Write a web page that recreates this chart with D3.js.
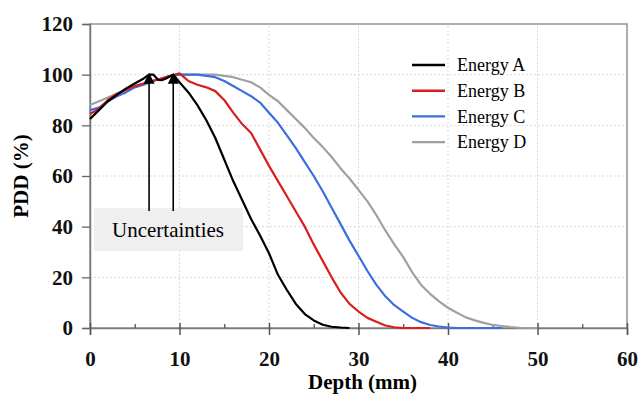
<!DOCTYPE html>
<html>
<head>
<meta charset="utf-8">
<script src="https://cdn.jsdelivr.net/npm/d3@7"></script>
<style>
body { margin: 0; background: #fff; }
svg text { font-family: "Liberation Serif", "DejaVu Serif", "Times New Roman", serif; }
</style>
</head>
<body>
<div id="viz"></div>
<script>
// PDD curves, [depth mm, pdd %]
var energyA = [[0,82.5],[1,86],[2,89.5],[3,92],[4,94.5],[5,96.5],[6,98.5],[6.6,100],[7.1,100],[7.6,98],[8,97.8],[8.5,98.5],[9,99.5],[9.3,100],
    [10,97],[11,93],[12,88],[13,82],[14,75],[15,66.5],[16,58],[17,50.5],[18,43],[19,36.5],[20,29.5],[21,21],[22,15],[23,9.5],[24,5.5],
    [25,3],[26,1.3],[27,0.5],[28,0.2],[29,0]];
var energyB = [[0,84.5],[1,86.5],[2,90],[3,92.5],[4,94],[5,95.5],[6,96.5],[7,97.5],[8,98.5],[9,99.5],[9.5,100],[10,100.5],[10.5,99],
    [11,97.5],[12,96],[13,95],[14,93.5],[15,90],[16,85],[17,80.5],[18,77],[19,70.5],[20,64],[21,58],[22,52],[23,46],[24,40],[25,33],
    [26,26.5],[27,20],[28,14],[29,9.5],[30,6.5],[31,4],[32,2.5],[33,1],[34,0.3],[35,0],[38,0]];
var energyC = [[0,86],[1,87],[2,89.5],[3,91.5],[4,93],[5,95],[6,96],[7,97.5],[8,98.5],[9,99.5],[10,100],[11,100],[12,100],[13,99.5],
    [14,99],[15,97.5],[16,95.5],[17,93.5],[18,91.5],[19,89],[20,85],[21,81],[22,76],[23,71],[24,65.5],[25,60],[26,54],[27,47.5],
    [28,41],[29,34.5],[30,28.5],[31,22.5],[32,17],[33,12.5],[34,9],[35,6.5],[36,4],[37,2.3],[38,1.2],[39,0.6],[40,0.2],[41,0],[46,0]];
var energyD = [[0,88],[1,89.5],[2,91],[3,92.5],[4,94],[5,95.5],[6,96.5],[7,97.5],[8,98.5],[9,99.5],[10,100],[11,100],[12,100],[13,100],
    [14,100],[15,99.5],[16,99],[17,98],[18,97],[19,95],[20,92],[21,89.5],[22,86],[23,82.5],[24,79],[25,75],[26,71.5],[27,67.5],
    [28,63],[29,59],[30,54.5],[31,50],[32,44.5],[33,38.5],[34,33],[35,28],[36,22],[37,17],[38,13.5],[39,10.5],[40,8],[41,6],
    [42,4.2],[43,3],[44,2],[45,1.2],[46,0.8],[47,0.4],[48,0.1],[50,0]];

var seriesNames = ["Energy A", "Energy B", "Energy C", "Energy D"];
var seriesData = [energyA, energyB, energyC, energyD];
var seriesColors = ["#000000", "#d81e1e", "#3b6ee0", "#a0a0a0"];

var xTicks = [0, 10, 20, 30, 40, 50, 60];
var xMinorTicks = [5, 15, 25, 35, 45, 55];
var yTicks = [0, 20, 40, 60, 80, 100, 120];

// arrow depths marking the peak uncertainty
var arrowDepths = [6.6, 9.3];

var canw = 638, canh = 396;

var svg = d3.select("#viz")
    .append("svg")
    .attr("width", canw)
    .attr("height", canh);

var x = d3.scaleLinear().domain([0, 60]).range([90, 627]);
var y = d3.scaleLinear().domain([0, 120]).range([328, 24]);

// grid
svg.append("g").selectAll("line")
    .data(xTicks.slice(1, -1))
    .enter().append("line")
    .attr("x1", function(d){ return x(d); })
    .attr("x2", function(d){ return x(d); })
    .attr("y1", y(0))
    .attr("y2", y(120))
    .style("stroke", "#d9d9d9")
    .style("stroke-dasharray", "2,2");
svg.append("g").selectAll("line")
    .data(yTicks.slice(1, -1))
    .enter().append("line")
    .attr("x1", x(0))
    .attr("x2", x(60))
    .attr("y1", function(d){ return y(d); })
    .attr("y2", function(d){ return y(d); })
    .style("stroke", "#d9d9d9")
    .style("stroke-dasharray", "2,2");

// frame
svg.append("rect")
    .attr("x", x(0))
    .attr("y", y(120))
    .attr("width", x(60) - x(0))
    .attr("height", y(0) - y(120))
    .style("fill", "none")
    .style("stroke", "#8c8c8c")
    .style("stroke-width", 1.4);

// y axis
var yAxis = svg.append("g")
    .attr("transform", "translate(" + x(0) + ",0)")
    .call(d3.axisLeft(y).tickValues(yTicks).tickSize(8).tickPadding(9));
yAxis.select(".domain").style("stroke", "#7a7a7a").style("stroke-width", 1.5);
yAxis.selectAll(".tick line").style("stroke", "#666").style("stroke-width", 1.3);
yAxis.selectAll("text")
    .attr("font-family", null)
    .style("font-size", "21px")
    .style("font-weight", "bold")
    .style("fill", "#111");

// x axis
var xAxis = svg.append("g")
    .attr("transform", "translate(0," + y(0) + ")")
    .call(d3.axisBottom(x).tickValues(xTicks).tickSize(7));
xAxis.select(".domain").style("stroke", "#7a7a7a").style("stroke-width", 1.5);
xAxis.selectAll(".tick line")
    .attr("y1", -5)
    .attr("y2", 7)
    .style("stroke", "#555")
    .style("stroke-width", 1.5);
xAxis.selectAll("text")
    .attr("y", 23)
    .style("font-size", "21px")
    .style("font-weight", "bold")
    .style("fill", "#111");
xAxis.attr("font-family", null);
yAxis.attr("font-family", null);

var xMinor = svg.append("g")
    .attr("transform", "translate(0," + y(0) + ")")
    .call(d3.axisBottom(x).tickValues(xMinorTicks).tickSize(-4).tickFormat(""));
xMinor.select(".domain").remove();
xMinor.selectAll(".tick line").style("stroke", "#555").style("stroke-width", 1.3);

// axis titles
svg.append("text")
    .attr("x", (x(0) + x(60)) / 2 + 4)
    .attr("y", 389)
    .attr("text-anchor", "middle")
    .style("font-size", "21px")
    .style("font-weight", "bold")
    .text("Depth (mm)");
svg.append("text")
    .attr("transform", "translate(28," + (y(60)) + ") rotate(-90)")
    .attr("text-anchor", "middle")
    .style("font-size", "21px")
    .style("font-weight", "bold")
    .text("PDD (%)");

// curves
var line = d3.line()
    .x(function(d){ return x(d[0]); })
    .y(function(d){ return y(d[1]); });

svg.append("g").selectAll("path")
    .data(seriesData.slice().reverse())
    .enter().append("path")
    .attr("d", line)
    .style("fill", "none")
    .style("stroke", function(d, i){ return seriesColors[3 - i]; })
    .style("stroke-width", 2.2)
    .style("stroke-linejoin", "round");

// uncertainties box
svg.append("rect")
    .attr("x", 94)
    .attr("y", 208)
    .attr("width", 149)
    .attr("height", 43)
    .style("fill", "#efefef");
svg.append("text")
    .attr("x", 168)
    .attr("y", 237)
    .attr("text-anchor", "middle")
    .style("font-size", "21px")
    .text("Uncertainties");

// arrows
var arrows = svg.append("g").selectAll("g")
    .data(arrowDepths)
    .enter().append("g");
arrows.append("line")
    .attr("x1", function(d){ return x(d); })
    .attr("x2", function(d){ return x(d); })
    .attr("y1", 211)
    .attr("y2", y(99))
    .style("stroke", "#000")
    .style("stroke-width", 1.6);
arrows.append("path")
    .attr("d", function(d){
        var cx = x(d), ty = y(100.8);
        return "M" + cx + "," + ty + "L" + (cx - 5.5) + "," + (ty + 11) + "L" + (cx + 5.5) + "," + (ty + 11) + "Z";
    })
    .style("fill", "#000");

// legend
var legend = svg.append("g").selectAll("g")
    .data(seriesNames)
    .enter().append("g")
    .attr("transform", function(d, i){ return "translate(412," + (65 + i * 25.7) + ")"; });
legend.append("line")
    .attr("x1", 0)
    .attr("x2", 33)
    .style("stroke", function(d, i){ return seriesColors[i]; })
    .style("stroke-width", 2.4);
legend.append("text")
    .attr("x", 45)
    .attr("dy", "0.35em")
    .style("font-size", "18px")
    .text(function(d){ return d; });
</script>
</body>
</html>
